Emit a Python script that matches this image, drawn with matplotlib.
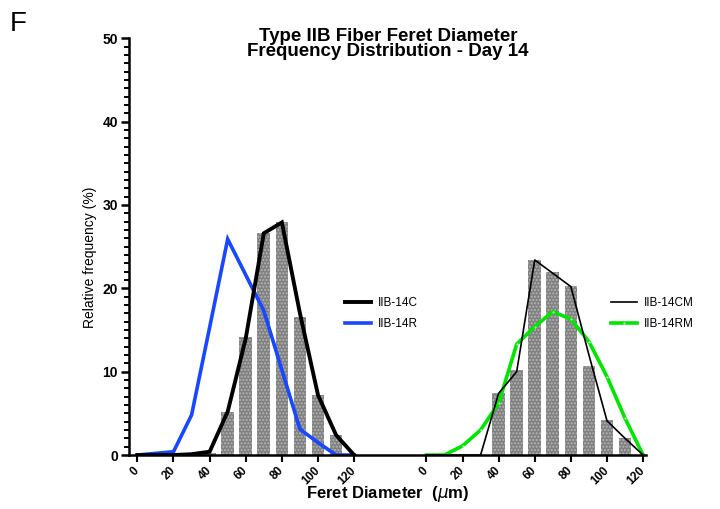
import matplotlib
matplotlib.use("Agg")
import matplotlib.pyplot as plt
from matplotlib.ticker import MultipleLocator

plt.rcParams['font.family'] = ['Liberation Sans', 'DejaVu Sans']
plt.rcParams['hatch.linewidth'] = 1.0

# Feret diameter bins (um), every 10
diam = [0, 10, 20, 30, 40, 50, 60, 70, 80, 90, 100, 110, 120]
bar_bins = [40, 50, 60, 70, 80, 90, 100, 110]

# Day 14, left panel (C vs R)
bars_14c = [0.3, 5.2, 14.2, 26.6, 27.9, 16.6, 7.2, 2.4]
iib_14c = [0, 0, 0, 0.1, 0.4, 5.2, 14.0, 26.6, 27.9, 17.0, 7.2, 2.4, 0]
iib_14r = [0, 0.2, 0.4, 4.8, 15.3, 25.9, 21.6, 17.3, 10.2, 3.1, 1.5, 0, 0]

# Day 14, right panel (CM vs RM)
bars_14cm = [7.4, 10.2, 23.4, 21.9, 20.3, 10.7, 4.2, 2.0]
iib_14cm = [0, 0, 0, 0, 7.4, 10.0, 23.4, 21.8, 20.2, 12.0, 4.1, 2.0, 0]
iib_14rm = [0, 0, 1.1, 3.0, 6.2, 13.3, 15.4, 17.2, 16.3, 13.6, 9.4, 4.4, 0]

tick_vals = [0, 20, 40, 60, 80, 100, 120]
offset = 160  # second group sits after a gap on the same axis

fig = plt.figure(figsize=(7.2, 5.09), dpi=100)
ax = fig.add_axes([0.179, 0.106, 0.718, 0.819])

bar_style = dict(width=7, color='#808080', edgecolor='#b4b4b4',
                 linewidth=0, hatch='.....', zorder=1)
ax.bar(bar_bins, bars_14c, **bar_style)
ax.bar([b + offset for b in bar_bins], bars_14cm, **bar_style)

l1, = ax.plot(diam, iib_14c, color='black', lw=2.8, zorder=3,
              solid_joinstyle='miter', label='IIB-14C')
l2, = ax.plot(diam, iib_14r, color='#1747ff', lw=2.6, zorder=2,
              solid_joinstyle='miter', label='IIB-14R')
x2 = [d + offset for d in diam]
l3, = ax.plot(x2, iib_14cm, color='black', lw=1.2, zorder=3,
              label='IIB-14CM')
l4, = ax.plot(x2, iib_14rm, color='#00e600', lw=2.6, zorder=2,
              marker='o', ms=1.5, mfc='#c8ffc8', mec='none',
              label='IIB-14RM')

ax.set_xlim(-4.7, 281.5)
ax.set_ylim(0, 50)

for side in ['top', 'right']:
    ax.spines[side].set_visible(False)
for side in ['left', 'bottom']:
    ax.spines[side].set_linewidth(1.8)

ax.yaxis.set_major_locator(MultipleLocator(10))
ax.yaxis.set_minor_locator(MultipleLocator(1))
ax.tick_params(axis='y', which='major', length=6, width=1.8, labelsize=10, pad=2)
ax.tick_params(axis='y', which='minor', length=3.5, width=1.4)
for t in ax.get_yticklabels():
    t.set_fontweight('bold')

xt = tick_vals + [v + offset for v in tick_vals]
ax.set_xticks(xt)
ax.set_xticklabels([str(v) for v in tick_vals] * 2, rotation=45,
                   ha='right', va='center', rotation_mode='anchor',
                   fontsize=8.5, fontweight='bold')
ax.tick_params(axis='x', length=5, width=1.5, pad=5)

ax.set_ylabel('Relative frequency (%)', fontsize=10)
ax.yaxis.set_label_coords(-0.062, 0.475)
ax.set_xlabel('Feret Diameter  ($\\mathit{\\mu}$m)', fontsize=12,
              fontweight='bold')
ax.xaxis.set_label_coords(0.5, -0.07)

fig.text(0.539, 1 - 44 / 509, 'Type IIB Fiber Feret Diameter\nFrequency Distribution - Day 14',
         fontsize=13.5, fontweight='bold', ha='center', va='center',
         linespacing=0.9)

leg_kw = dict(frameon=False, fontsize=8.5, handlelength=2.2, handletextpad=0.6,
              labelspacing=0.8, borderpad=0, borderaxespad=0, loc='upper left')
leg1 = ax.legend(handles=[l1, l2], bbox_to_anchor=(0.418, 0.379), **leg_kw)
ax.add_artist(leg1)
ax.legend(handles=[l3, l4], bbox_to_anchor=(0.932, 0.379), **leg_kw)

fig.text(0.013, 0.978, 'F', fontsize=20, va='top', ha='left')

fig.savefig('out.png', dpi=100)
